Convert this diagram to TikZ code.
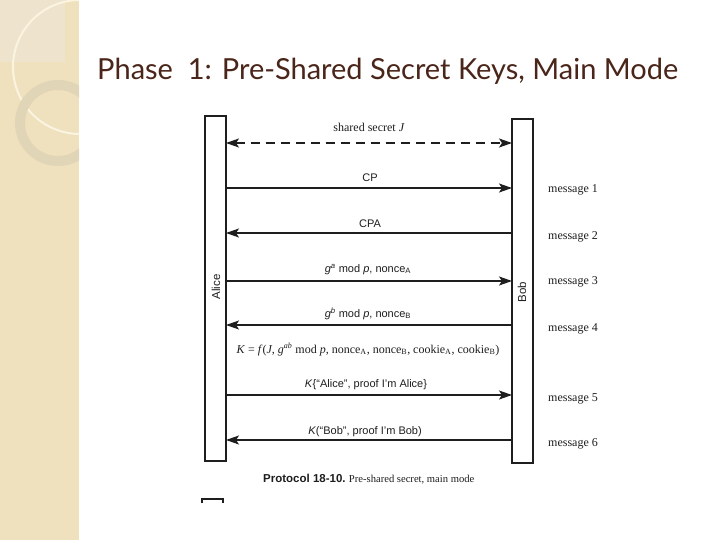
\documentclass[tikz,border=0pt]{standalone}
\usepackage{fontspec}
\usepackage{graphicx}
\setmainfont{Liberation Serif}
\setsansfont{Liberation Sans}
\newfontfamily\titlefont{Lato}
\usetikzlibrary{arrows.meta}
\definecolor{sidebar}{HTML}{EFE0BE}
\definecolor{lightsq}{HTML}{EEE4CD}
\definecolor{arcline}{HTML}{FBF4E0}
\definecolor{ringcol}{HTML}{E1D5B7}
\definecolor{titlecol}{HTML}{4A2519}
\definecolor{inkcol}{HTML}{1E1E1E}
\tikzset{
  lifebox/.style={draw=inkcol, line width=1.1pt, inner sep=0pt, outer sep=0pt, minimum width=21pt},
  msgarrow/.style={draw=inkcol, line width=1.1pt, -{Stealth[length=13pt,width=9pt,inset=3pt]}},
  dasharrow/.style={draw=inkcol, line width=1.1pt, dash pattern=on 9pt off 6pt, {Stealth[length=13pt,width=9pt,inset=3pt]}-{Stealth[length=13pt,width=9pt,inset=3pt]}},
  sanslbl/.style={font=\sffamily\fontsize{11pt}{13pt}\selectfont, inner sep=0pt, anchor=base, text=inkcol},
  serlbl/.style={font=\rmfamily\fontsize{12pt}{14pt}\selectfont, inner sep=0pt, anchor=base, text=inkcol},
  msglbl/.style={font=\rmfamily\fontsize{12pt}{14pt}\selectfont, inner sep=0pt, anchor=base west, text=inkcol},
  partylbl/.style={font=\sffamily\fontsize{11.5pt}{13pt}\selectfont, inner sep=0pt, rotate=90, text=inkcol}
}
\begin{document}
\begin{tikzpicture}[x=1pt,y=-1pt]
\useasboundingbox (0,0) rectangle (720,540);
\fill[white] (0,0) rectangle (720,540);
% sidebar decoration
\begin{scope}
  \clip (0,0) rectangle (79,540);
  \fill[sidebar] (0,0) rectangle (79,540);
  \fill[lightsq] (0,0) rectangle (65,62);
  \draw[arcline, line width=2pt] (80,67) circle[radius=67];
  \draw[ringcol, line width=10pt] (58,123) circle[radius=38];
\end{scope}
% title
\node[anchor=base west, inner sep=0pt, text=titlecol] (title) at (97,80)
  {\resizebox{581pt}{!}{\titlefont\fontsize{28pt}{30pt}\selectfont Phase\ \ 1: Pre-Shared Secret Keys, Main Mode}};
% lifelines
\node[lifebox, minimum height=345pt] (alice) at (215.5,288.5) {};
\node[lifebox, minimum height=344pt] (bob) at (522.5,291) {};
\node[partylbl] (alicelbl) at (216,287) {Alice};
\node[partylbl] (boblbl) at (522,292) {Bob};
% messages
\draw[dasharrow] (alice.east |- 0,143) -- (bob.west |- 0,143);
\node[serlbl] (lj) at (369,132) {shared secret \textit{J}};

\draw[msgarrow] (alice.east |- 0,188) -- (bob.west |- 0,188);
\node[sanslbl] (l1) at (370,182) {CP};
\node[msglbl] (m1) at (548,193) {message 1};

\draw[msgarrow] (bob.west |- 0,233) -- (alice.east |- 0,233);
\node[sanslbl] (l2) at (370,227) {CPA};
\node[msglbl] (m2) at (548,240) {message 2};

\draw[msgarrow] (alice.east |- 0,281) -- (bob.west |- 0,281);
\node[sanslbl] (l3) at (368,272) {\textit{g}\textsuperscript{\textit{a}} mod \textit{p}, nonce\textsubscript{A}};
\node[msglbl] (m3) at (548,284) {message 3};

\draw[msgarrow] (bob.west |- 0,325) -- (alice.east |- 0,325);
\node[sanslbl] (l4) at (368,317) {\textit{g}\textsuperscript{\textit{b}} mod \textit{p}, nonce\textsubscript{B}};
\node[msglbl] (m4) at (548,331) {message 4};

\node[serlbl] (kf) at (368,353) {\textit{K} = \textit{f}(\textit{J}, \textit{g}\textsuperscript{\textit{ab}} mod \textit{p}, nonce\textsubscript{A}, nonce\textsubscript{B}, cookie\textsubscript{A}, cookie\textsubscript{B})};

\draw[msgarrow] (alice.east |- 0,395) -- (bob.west |- 0,395);
\node[sanslbl] (l5) at (366,387) {\textit{K}\{“Alice”, proof I’m Alice\}};
\node[msglbl] (m5) at (548,401) {message 5};

\draw[msgarrow] (bob.west |- 0,440) -- (alice.east |- 0,440);
\node[sanslbl] (l6) at (365,434) {\textit{K}(“Bob”, proof I’m Bob)};
\node[msglbl] (m6) at (548,446) {message 6};

% caption
\node[anchor=base west, inner sep=0pt, text=inkcol] (caption) at (263,482)
  {{\sffamily\bfseries\fontsize{11.5pt}{13pt}\selectfont Protocol 18-10.} {\rmfamily\fontsize{10.6pt}{12pt}\selectfont Pre-shared secret, main mode}};
% cut-off box top at the bottom
\draw[inkcol, line width=1.1pt] (202,503) -- (202,499) -- (223,499) -- (223,503);
\end{tikzpicture}
\end{document}
